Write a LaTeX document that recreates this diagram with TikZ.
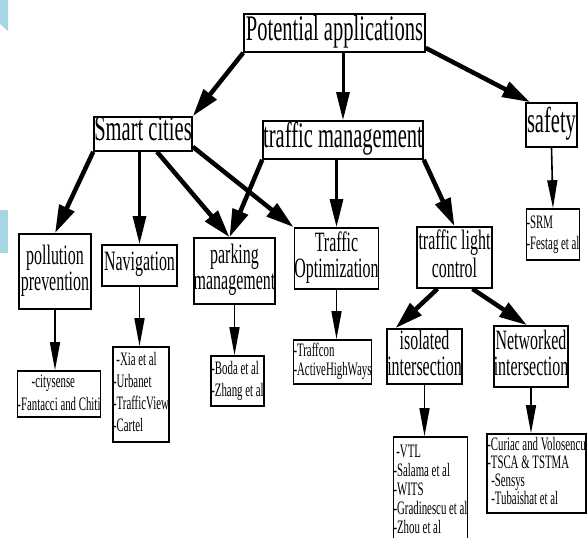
\documentclass[tikz,border=0pt]{standalone}
\usepackage{fontspec}
\setmainfont{Liberation Serif}
\usepackage{graphicx}
\usetikzlibrary{arrows.meta}
\definecolor{slideblue}{RGB}{166,214,228}
\newcommand{\sq}[1]{\scalebox{0.57}[1]{\begin{tabular}{@{}c@{}}#1\end{tabular}}}
\newcommand{\lst}[1]{\scalebox{0.57}[1]{\begin{tabular}{@{}l@{}}#1\end{tabular}}}

\begin{document}
\begin{tikzpicture}[x=1pt,y=-1pt,
    appbox/.style={draw,line width=1.6pt,inner sep=0pt},
    top/.style={appbox,font=\fontsize{36}{34}\selectfont},
    sub/.style={appbox,font=\fontsize{28}{26}\selectfont},
    refs/.style={appbox,font=\fontsize{19}{22}\selectfont},
    bigarrow/.style={line width=4.5pt,-{Triangle[length=28pt,width=16pt]}},
    midarrow/.style={line width=3pt,-{Triangle[length=28pt,width=13pt]}},
    smallarrow/.style={line width=1.6pt,-{Triangle[length=28pt,width=10pt]}}]
  \useasboundingbox (0,0) rectangle (587,538);
  % slide background
  \fill[slideblue] (0,0) -- (8,0) -- (8,31) -- (0,24) -- cycle;
  \fill[slideblue] (0,210) rectangle (8,253);

  % top levels
  \node[top,minimum width=181pt,minimum height=38pt] (pa) at (334.5,33) {\sq{Potential applications}};
  \node[top,minimum width=98pt,minimum height=32pt] (sc) at (143,134) {\sq{Smart cities}};
  \node[top,minimum width=160pt,minimum height=38pt] (tm) at (343,140) {\sq{traffic management}};
  \node[top,minimum width=51pt,minimum height=44pt] (sf) at (551.5,125) {\sq{safety}};

  % applications
  \node[sub,minimum width=72pt,minimum height=75pt] (pp) at (55,271.5) {\sq{pollution\\prevention}};
  \node[sub,minimum width=75pt,minimum height=41pt] (nav) at (139.5,265.5) {\sq{Navigation}};
  \node[sub,minimum width=81pt,minimum height=66pt] (pm) at (234.5,271) {\sq{parking\\management}};
  \node[sub,minimum width=83pt,minimum height=61pt] (to) at (336.5,258.5) {\sq{Traffic\\Optimization}};
  \node[sub,minimum width=75pt,minimum height=61pt] (tlc) at (454.5,257.5) {\sq{traffic light\\control}};
  \node[sub,minimum width=75pt,minimum height=55pt] (ii) at (424.5,356.5) {\sq{isolated\\intersection}};
  \node[sub,minimum width=74pt,minimum height=61pt] (ni) at (531,356.5) {\sq{Networked\\intersection}};

  % works
  \node[refs,font=\fontsize{19}{21}\selectfont,minimum width=50pt,minimum height=51pt] (srm) at (553,234.5) {\lst{-SRM\\-Festag et al}};
  \node[refs,font=\fontsize{19}{23}\selectfont,minimum width=80pt,minimum height=46pt] (cs) at (59,394) {\lst{\hspace*{25pt}-citysense\\-Fantacci and Chiti}};
  \node[refs,minimum width=54pt,minimum height=95pt] (xia) at (141,394.5) {\lst{\hspace*{6pt}-Xia et al\\-Urbanet\\-TrafficView\\-Cartel}};
  \node[refs,minimum width=53pt,minimum height=50pt] (boda) at (237.5,381) {\lst{-Boda et al\\-Zhang et al}};
  \node[refs,font=\fontsize{19}{18}\selectfont,minimum width=75pt,minimum height=44pt] (tc) at (332.5,362) {\lst{-Traffcon\\-ActiveHighWays}};
  \node[refs,font=\fontsize{19}{19}\selectfont,minimum width=71pt,minimum height=110pt] (vtl) at (430.5,492) {\lst{\hspace*{5pt}-VTL\\-Salama et al\\-WITS\\-Gradinescu et al\\-Zhou et al}};
  \node[refs,font=\fontsize{19}{18}\selectfont,minimum width=97pt,minimum height=79pt] (cur) at (536.5,473.5) {\lst{-Curiac and Volosencu\\-TSCA \& TSTMA\\\hspace*{7pt}-Sensys\\\hspace*{7pt}-Tubaishat et al}};

  % arrows
  \draw[bigarrow] (pa.south west) -- (sc.north east);
  \draw[midarrow] (pa.south -| tm.north) -- (tm.north);
  \draw[bigarrow] ([yshift=-15pt]pa.east) -- ([xshift=5pt]sf.north west);
  \draw[bigarrow] (sc.south west) -- (pp.north);
  \draw[midarrow] (nav.north |- sc.south) -- (nav.north);
  \draw[bigarrow] ([xshift=14pt]sc.south) -- ([xshift=-5pt]pm.north);
  \draw[bigarrow] ([yshift=5pt]sc.south east) -- (to.north west);
  \draw[bigarrow] (tm.south west) -- ([xshift=-5pt]pm.north);
  \draw[midarrow] (to.north |- tm.south) -- (to.north);
  \draw[bigarrow] (tm.south east) -- (tlc.north);
  \draw[bigarrow] ([xshift=-17pt]tlc.south) -- ([xshift=-29pt]ii.north);
  \draw[bigarrow] ([xshift=18pt]tlc.south) -- ([xshift=-4pt]ni.north);
  \draw[smallarrow] (sf.south) -- (srm.north);
  \foreach \a/\b in {pp/cs,nav/xia,pm/boda,to/tc,ii/vtl,ni/cur}
    \draw[smallarrow] (\a.south) -- (\a.south |- \b.north);
\end{tikzpicture}
\end{document}
